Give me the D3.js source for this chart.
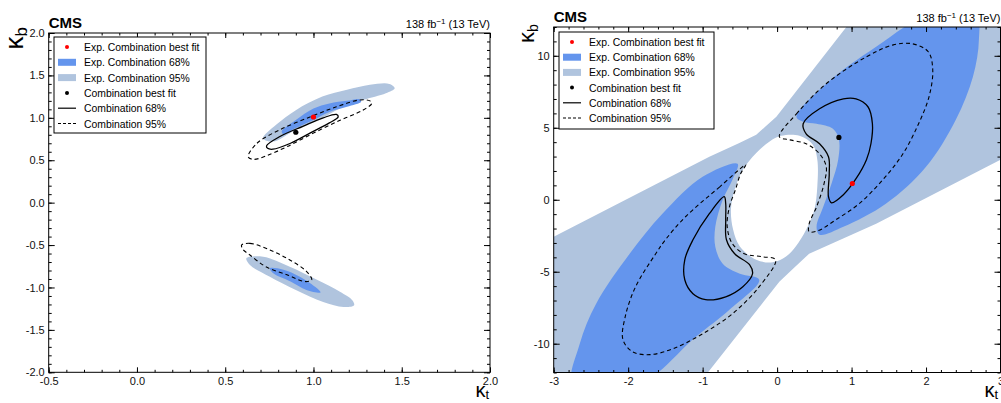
<!DOCTYPE html>
<html>
<head>
<meta charset="utf-8">
<script src="https://cdn.jsdelivr.net/npm/d3@7"></script>
<style>
  body { margin: 0; background: #fff; }
  svg { display: block; font-family: "Liberation Sans", Arial, sans-serif; }
</style>
</head>
<body>
<svg id="chart" width="1001" height="403"></svg>
<script>
// ---- left panel: zoomed view (kt, kb) ----
var leftXTicks = [-0.5, 0, 0.5, 1, 1.5, 2];
var leftXLabels = ["-0.5", "0.0", "0.5", "1.0", "1.5", "2.0"];
var leftYTicks = [-2, -1.5, -1, -0.5, 0, 0.5, 1, 1.5, 2];
var leftYLabels = ["-2.0", "-1.5", "-1.0", "-0.5", "0.0", "0.5", "1.0", "1.5", "2.0"];

var leftExp95Up = [[0.715,0.76],[0.79,0.92],[0.90,1.09],[1.05,1.25],[1.19,1.33],[1.32,1.39],[1.43,1.40],[1.46,1.35],
  [1.41,1.29],[1.28,1.21],[1.17,1.13],[1.05,1.0],[0.90,0.86],[0.77,0.72]];
var leftExp95Down = [[0.62,-0.656],[0.715,-0.637],[0.866,-0.755],[1.02,-0.91],[1.15,-1.05],[1.22,-1.15],[1.23,-1.21],
  [1.17,-1.23],[1.055,-1.17],[0.90,-1.03],[0.75,-0.87],[0.64,-0.735]];
var leftExp68Up = [[0.82,0.84],[0.90,0.975],[1.0,1.11],[1.09,1.17],[1.19,1.20],[1.26,1.22],[1.27,1.19],[1.19,1.13],
  [1.09,1.07],[1.0,0.975],[0.90,0.88],[0.83,0.81]];
var leftExp68Down = [[0.753,-0.774],[0.83,-0.79],[0.92,-0.87],[1.02,-1.01],[1.04,-1.06],[0.96,-1.03],[0.87,-0.93],[0.77,-0.83]];
var leftComb68 = [[0.734,0.67],[0.81,0.78],[0.94,0.90],[1.055,1.0],[1.13,1.04],[1.14,1.01],[1.09,0.94],[0.98,0.82],
  [0.87,0.70],[0.77,0.63],[0.74,0.64]];
var leftComb95Up = [[0.63,0.54],[0.68,0.70],[0.81,0.86],[0.98,1.01],[1.13,1.13],[1.26,1.21],[1.32,1.20],[1.33,1.17],
  [1.28,1.09],[1.15,0.97],[1.0,0.82],[0.85,0.66],[0.73,0.55],[0.66,0.51]];
var leftComb95Down = [[0.593,-0.50],[0.64,-0.48],[0.753,-0.558],[0.866,-0.676],[0.96,-0.81],[0.99,-0.91],[0.95,-0.93],
  [0.85,-0.85],[0.73,-0.755],[0.64,-0.617],[0.60,-0.55]];
var leftExpBest = [1.0, 1.01];
var leftCombBest = [0.90, 0.83];

// ---- right panel: wide view ----
var rightXTicks = [-3, -2, -1, 0, 1, 2, 3];
var rightXLabels = ["-3", "-2", "-1", "0", "1", "2", "3"];
var rightYTicks = [-10, -5, 0, 5, 10];
var rightYLabels = ["-10", "-5", "0", "5", "10"];

var rightExp95Outer = [[-3,-2.57],[-0.91,2.99],[-0.50,3.96],[-0.28,4.51],[-0.16,5.07],[-0.01,5.76],[0.93,12],[3,12],
  [3,2.78],[1.33,-1.67],[0.43,-3.75],[0.20,-4.86],[0.03,-5.69],[-0.93,-12],[-3,-12]];
var rightExp95Hole = [[0.054,4.44],[0.30,4.44],[0.48,3.82],[0.54,2.78],[0.54,0.92],[0.50,-0.69],[0.39,-2.08],[0.25,-3.24],
  [0.12,-3.94],[-0.06,-4.35],[-0.28,-4.17],[-0.50,-3.24],[-0.59,-2.08],[-0.62,-0.69],[-0.57,0.69],[-0.46,2.08],
  [-0.28,3.24],[-0.10,4.05]];
var rightExp68Up = [[0.26,5.76],[0.66,8.06],[1.33,10.63],[2.06,12.9],[2.67,12.9],[2.71,11.11],[2.63,8.54],[2.40,5.56],
  [2.0,2.29],[1.46,-0.28],[0.89,-1.88],[0.57,-2.43],[0.53,-1.88],[0.62,-0.49],[0.73,1.11],[0.82,2.78],[0.83,4.17],
  [0.75,4.93],[0.53,5.28],[0.35,5.42]];
var rightExp68Down = [[-0.53,2.5],[-1.0,1.6],[-1.54,-0.97],[-1.98,-3.75],[-2.43,-7.22],[-2.65,-10.0],[-2.74,-12.9],
  [-1.88,-12.9],[-1.09,-9.51],[-0.64,-7.64],[-0.24,-5.56],[-0.50,-5.14],[-0.73,-4.44],[-0.83,-3.26],[-0.83,-1.88],
  [-0.73,0],[-0.60,1.39]];
var rightComb68Up = [[0.35,5.28],[0.57,6.32],[0.89,7.01],[1.06,7.01],[1.22,6.46],[1.28,5.28],[1.26,3.89],[1.2,2.78],
  [1.06,1.46],[0.89,0.35],[0.73,-0.21],[0.69,0.21],[0.70,1.81],[0.69,2.99],[0.57,3.89],[0.39,4.58]];
var rightComb68Down = [[-0.71,0.21],[-0.91,-0.97],[-1.13,-2.78],[-1.24,-4.17],[-1.24,-5.56],[-1.13,-6.53],[-0.96,-6.94],
  [-0.69,-6.74],[-0.46,-6.04],[-0.33,-5.14],[-0.37,-4.51],[-0.57,-3.75],[-0.68,-2.78],[-0.69,-1.39],[-0.69,-0.28]];
var rightComb95Up = [[0.03,4.38],[0.26,5.97],[0.66,8.06],[1.2,9.93],[1.56,10.76],[1.82,10.83],[2.03,10.28],[2.09,9.03],
  [2.04,7.15],[1.9,5.28],[1.69,3.19],[1.42,1.39],[1.1,-0.28],[0.79,-1.39],[0.55,-2.15],[0.43,-2.22],[0.43,-1.67],
  [0.53,-0.49],[0.63,1.11],[0.66,2.29],[0.57,3.19],[0.39,3.89],[0.16,4.17]];
var rightComb95Down = [[-0.42,2.43],[-0.77,0.90],[-1.23,-1.18],[-1.5,-2.78],[-1.63,-3.75],[-1.9,-6.04],[-2.04,-8.13],
  [-2.07,-9.72],[-1.94,-10.56],[-1.71,-10.76],[-1.4,-10.35],[-1.0,-9.31],[-0.6,-7.92],[-0.24,-6.04],[-0.02,-4.17],
  [-0.2,-3.96],[-0.44,-3.75],[-0.6,-3.06],[-0.67,-1.88],[-0.64,-0.49],[-0.56,0.69],[-0.49,1.81]];
var rightExpBest = [1.01, 1.13];
var rightCombBest = [0.83, 4.33];

var legendLabels = ["Exp. Combination best fit", "Exp. Combination 68%", "Exp. Combination 95%",
  "Combination best fit", "Combination 68%", "Combination 95%"];

var col68 = "#6495ed", col95 = "#b0c4de";
var svg = d3.select("#chart");

function drawPanel(p) {
  var x = d3.scaleLinear().domain(p.xDom).range([p.left, p.right]);
  var y = d3.scaleLinear().domain(p.yDom).range([p.bottom, p.top]);
  var g = svg.append("g");

  g.append("clipPath").attr("id", p.id + "-clip")
    .append("rect")
      .attr("x", p.left).attr("y", p.top)
      .attr("width", p.right - p.left).attr("height", p.bottom - p.top);

  var smooth = d3.line().x(function(d){ return x(d[0]); }).y(function(d){ return y(d[1]); })
    .curve(d3.curveCatmullRomClosed.alpha(0.5));
  var straight = d3.line().x(function(d){ return x(d[0]); }).y(function(d){ return y(d[1]); })
    .curve(d3.curveLinearClosed);

  var plot = g.append("g").attr("clip-path", "url(#" + p.id + "-clip)");

  // 95% expected regions (with optional hole)
  p.exp95.forEach(function(r){
    var d = r.hole ? straight(r.outer) + smooth(r.hole) : smooth(r.outer);
    plot.append("path").attr("d", d).attr("fill", col95).attr("fill-rule", "evenodd");
  });
  p.exp68.forEach(function(r){
    plot.append("path").attr("d", smooth(r)).attr("fill", col68);
  });
  p.comb68.forEach(function(r){
    plot.append("path").attr("d", smooth(r)).attr("fill", "none")
      .attr("stroke", "#000").attr("stroke-width", 1.3);
  });
  p.comb95.forEach(function(r){
    plot.append("path").attr("d", smooth(r)).attr("fill", "none")
      .attr("stroke", "#000").attr("stroke-width", 1.1).attr("stroke-dasharray", "4,3");
  });
  plot.append("circle").attr("cx", x(p.combBest[0])).attr("cy", y(p.combBest[1])).attr("r", 2.6).attr("fill", "#000");
  plot.append("circle").attr("cx", x(p.expBest[0])).attr("cy", y(p.expBest[1])).attr("r", 2.6).attr("fill", "#ff0000");

  // axes: major and minor ticks pointing inward, on all four sides
  function styleAxis(a) {
    a.select(".domain").remove();
    a.selectAll("line").attr("stroke", "#000");
    a.selectAll("text").attr("font-family", "Liberation Sans, Arial, sans-serif")
      .attr("font-size", 11).attr("fill", "#111");
  }
  var xMinor = d3.ticks(p.xDom[0], p.xDom[1], p.xMinorCount);
  var yMinor = d3.ticks(p.yDom[0], p.yDom[1], p.yMinorCount);

  g.append("g").attr("transform", "translate(0," + p.bottom + ")")
    .call(d3.axisBottom(x).tickValues(xMinor).tickSize(-2.5).tickFormat("")).call(styleAxis);
  g.append("g").attr("transform", "translate(0," + p.bottom + ")")
    .call(d3.axisBottom(x).tickValues(p.xTicks).tickSize(-5).tickPadding(5)
      .tickFormat(function(d, i){ return p.xLabels[i]; })).call(styleAxis);
  g.append("g").attr("transform", "translate(0," + p.top + ")")
    .call(d3.axisTop(x).tickValues(xMinor).tickSize(-2.5).tickFormat("")).call(styleAxis);
  g.append("g").attr("transform", "translate(0," + p.top + ")")
    .call(d3.axisTop(x).tickValues(p.xTicks).tickSize(-5).tickFormat("")).call(styleAxis);

  g.append("g").attr("transform", "translate(" + p.left + ",0)")
    .call(d3.axisLeft(y).tickValues(yMinor).tickSize(-3).tickFormat("")).call(styleAxis);
  g.append("g").attr("transform", "translate(" + p.left + ",0)")
    .call(d3.axisLeft(y).tickValues(p.yTicks).tickSize(-6).tickPadding(4)
      .tickFormat(function(d, i){ return p.yLabels[i]; })).call(styleAxis);
  g.append("g").attr("transform", "translate(" + p.right + ",0)")
    .call(d3.axisRight(y).tickValues(yMinor).tickSize(-3).tickFormat("")).call(styleAxis);
  g.append("g").attr("transform", "translate(" + p.right + ",0)")
    .call(d3.axisRight(y).tickValues(p.yTicks).tickSize(-6).tickFormat("")).call(styleAxis);

  g.append("rect").attr("x", p.left).attr("y", p.top)
    .attr("width", p.right - p.left).attr("height", p.bottom - p.top)
    .attr("fill", "none").attr("stroke", "#000").attr("stroke-width", 1);

  // axis titles
  var yt = g.append("text")
    .attr("transform", "translate(" + p.yTitleX + "," + p.yTitleY + ") rotate(-90)")
    .attr("text-anchor", "end").attr("font-size", p.yTitleSize).attr("fill", "#000");
  yt.append("tspan").text("κ");
  yt.append("tspan").attr("font-size", p.yTitleSize * 0.65).attr("dy", 4).text("b");

  var xt = g.append("text")
    .attr("x", p.xTitleX).attr("y", p.xTitleY)
    .attr("text-anchor", "end").attr("font-size", p.xTitleSize).attr("fill", "#000");
  xt.append("tspan").text("κ");
  xt.append("tspan").attr("font-size", p.xTitleSize * 0.65).attr("dy", 2).text("t");

  // CMS label and luminosity
  g.append("text").attr("x", p.left).attr("y", p.cmsY)
    .attr("font-size", 15).attr("font-weight", "bold").attr("fill", "#000").text("CMS");
  var lumi = g.append("text").attr("x", p.right).attr("y", p.cmsY)
    .attr("text-anchor", "end").attr("font-size", 11).attr("fill", "#000");
  lumi.append("tspan").text("138 fb");
  lumi.append("tspan").attr("font-size", 8).attr("dy", -4).text("−1");
  lumi.append("tspan").attr("dy", 4).text(" (13 TeV)");

  // legend
  var L = p.legend;
  var lg = g.append("g");
  lg.append("rect").attr("x", L.x).attr("y", L.y).attr("width", L.w).attr("height", L.h)
    .attr("fill", "#fff").attr("stroke", "#000").attr("stroke-width", 1);
  legendLabels.forEach(function(lab, i){
    var cy = L.y + L.first + i * L.step;
    var sx0 = L.x + 4, sx1 = L.x + 22, sc = (sx0 + sx1) / 2;
    if (i === 0 || i === 3) {
      lg.append("circle").attr("cx", sc).attr("cy", cy).attr("r", 2).attr("fill", i === 0 ? "#ff0000" : "#000");
    } else if (i === 1 || i === 2) {
      lg.append("rect").attr("x", sx0).attr("y", cy - 3.5).attr("width", sx1 - sx0).attr("height", 7)
        .attr("fill", i === 1 ? col68 : col95);
    } else {
      lg.append("line").attr("x1", sx0).attr("x2", sx1).attr("y1", cy).attr("y2", cy)
        .attr("stroke", "#000").attr("stroke-width", 1.2)
        .attr("stroke-dasharray", i === 5 ? "3,2" : null);
    }
    lg.append("text").attr("x", L.x + 30).attr("y", cy + 4)
      .attr("font-size", 10.4).attr("fill", "#000").text(lab);
  });
}

drawPanel({
  id: "left", left: 48.7, right: 490, top: 33, bottom: 372.3,
  xDom: [-0.5, 2], yDom: [-2, 2], xMinorCount: 25, yMinorCount: 40,
  xTicks: leftXTicks, xLabels: leftXLabels, yTicks: leftYTicks, yLabels: leftYLabels,
  exp95: [{outer: leftExp95Up}, {outer: leftExp95Down}],
  exp68: [leftExp68Up, leftExp68Down],
  comb68: [leftComb68],
  comb95: [leftComb95Up, leftComb95Down],
  expBest: leftExpBest, combBest: leftCombBest,
  yTitleSize: 26, xTitleSize: 20, yTitleX: 23, yTitleY: 27, xTitleX: 489, xTitleY: 397, cmsY: 28,
  legend: {x: 54, y: 37, w: 152, h: 96, first: 10, step: 15.3}
});

drawPanel({
  id: "right", left: 553.7, right: 1000.5, top: 27, bottom: 372.5,
  xDom: [-3, 3], yDom: [-12, 12], xMinorCount: 30, yMinorCount: 24,
  xTicks: rightXTicks, xLabels: rightXLabels, yTicks: rightYTicks, yLabels: rightYLabels,
  exp95: [{outer: rightExp95Outer, hole: rightExp95Hole}],
  exp68: [rightExp68Up, rightExp68Down],
  comb68: [rightComb68Up, rightComb68Down],
  comb95: [rightComb95Up, rightComb95Down],
  expBest: rightExpBest, combBest: rightCombBest,
  yTitleSize: 22, xTitleSize: 20, yTitleX: 534, yTitleY: 24, xTitleX: 998, xTitleY: 397, cmsY: 22,
  legend: {x: 559, y: 32, w: 155, h: 97, first: 10, step: 15.2}
});
</script>
</body>
</html>
